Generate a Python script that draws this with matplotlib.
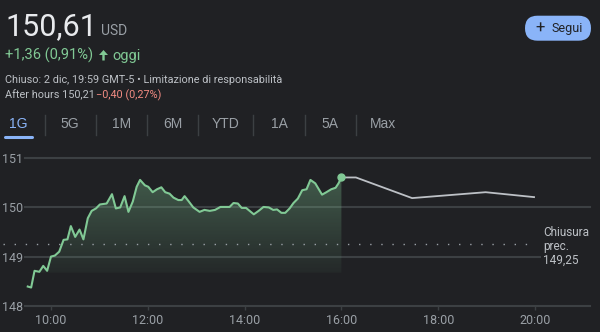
import numpy as np
import matplotlib.pyplot as plt
from matplotlib.patches import FancyBboxPatch, Polygon

plt.rcParams['font.family'] = ['Roboto', 'DejaVu Sans']

BG = '#202124'
GREEN = '#81c995'
GRID = '#3c4043'
GRAY = '#9aa0a6'
LIGHT = '#bdc1c6'

# seduta regolare (ore decimali) e prezzi
ore = [9.52, 9.59, 9.66, 9.76, 9.84, 9.92, 10.0, 10.08, 10.17, 10.26, 10.34, 10.41,
       10.50, 10.59, 10.67, 10.76, 10.84, 10.93, 11.01, 11.15, 11.26, 11.34, 11.43,
       11.52, 11.60, 11.69, 11.77, 11.84, 11.94, 12.01, 12.10, 12.19, 12.28, 12.36,
       12.45, 12.53, 12.63, 12.70, 12.76, 12.84, 12.94, 13.07, 13.17, 13.28, 13.39,
       13.50, 13.69, 13.77, 13.86, 13.94, 14.03, 14.19, 14.29, 14.39, 14.50, 14.59,
       14.67, 14.76, 14.84, 14.93, 15.01, 15.10, 15.19, 15.28, 15.36, 15.46, 15.60,
       15.69, 15.79, 15.88, 15.94, 16.0]
prezzi = [148.39, 148.37, 148.71, 148.69, 148.81, 148.71, 149.0, 149.02, 149.10, 149.34,
          149.35, 149.62, 149.40, 149.55, 149.35, 149.78, 149.93, 149.98, 150.06, 150.08,
          150.27, 149.98, 150.0, 150.23, 149.91, 150.12, 150.42, 150.56, 150.45, 150.42,
          150.31, 150.37, 150.41, 150.31, 150.28, 150.20, 150.15, 150.15, 150.23, 150.13,
          150.0, 149.91, 149.95, 149.93, 149.95, 150.01, 150.01, 150.09, 150.08, 149.99,
          149.99, 149.86, 149.93, 150.01, 150.0, 149.95, 149.96, 149.89, 149.89, 149.98,
          150.09, 150.18, 150.35, 150.37, 150.56, 150.49, 150.26, 150.31, 150.37, 150.40,
          150.49, 150.61]

# after hours
ah_ore = [16.0, 16.3, 17.46, 18.98, 19.98]
ah_prezzi = [150.61, 150.61, 150.19, 150.31, 150.21]

chiusura_prec = 149.25
yticks = [148, 149, 150, 151]
xticks = [10, 12, 14, 16, 18, 20]
xlabels = ['10:00', '12:00', '14:00', '16:00', '18:00', '20:00']
tabs = ['1G', '5G', '1M', '6M', 'YTD', '1A', '5A', 'Max']
tab_x = [18.5, 70, 121.7, 172.6, 225.8, 279.4, 330, 383]
sep_x = [44.5, 95.7, 146.7, 198.2, 253.4, 304.6, 356]

fig = plt.figure(figsize=(6, 3.32), dpi=100, facecolor=BG)

# grafico
ax = fig.add_axes([25 / 600, (332 - 305.7) / 332, 565 / 600, (305.7 - 158.3) / 332])
ax.patch.set_alpha(0)
ax.set_xlim(9.463, 21.136)
ax.set_ylim(148, 151)
for s in ax.spines.values():
    s.set_visible(False)
for y in yticks:
    ax.axhline(y, color=GRID, lw=1.5, clip_on=False, zorder=0)

# area sfumata
base = 148.67
top = max(prezzi)
verts = [(ore[0], base)] + list(zip(ore, prezzi)) + [(ore[-1], base)]
poly = Polygon(verts, closed=True, fc='none', ec='none')
ax.add_patch(poly)
rgba = np.zeros((100, 1, 4))
rgba[..., 0] = 0x81 / 255
rgba[..., 1] = 0xc9 / 255
rgba[..., 2] = 0x95 / 255
rgba[:, 0, 3] = np.linspace(0.05, 0.34, 100)
im = ax.imshow(rgba, extent=[ore[0], ore[-1], base, top], origin='lower',
               aspect='auto', zorder=1)
im.set_clip_path(poly)

ax.plot(ah_ore, ah_prezzi, color=LIGHT, lw=1.3, zorder=2)
ax.plot(ore, prezzi, color=GREEN, lw=1.5, zorder=3, solid_joinstyle='round')
ax.plot(ore[-1], prezzi[-1], 'o', color=GREEN, ms=5, zorder=4, clip_on=False)

ax.plot([9.008, 20.0], [chiusura_prec, chiusura_prec], color=GRAY, lw=1,
        dashes=(1, 7), clip_on=False, zorder=2)

ax.set_yticks(yticks)
ax.set_yticklabels([str(y) for y in yticks])
ax.set_xticks(xticks)
ax.set_xticklabels(xlabels)
ax.tick_params(axis='y', length=0, pad=1.5, labelcolor=GRAY, labelsize=9)
ax.tick_params(axis='x', length=3, width=1, color=GRID, pad=3, labelcolor=GRAY,
               labelsize=9)

# overlay in pixel per le intestazioni (sopra al grafico)
ov = fig.add_axes([0, 0, 1, 1])
ov.set_zorder(5)
ov.set_xlim(0, 600)
ov.set_ylim(332, 0)
ov.axis('off')
ov.patch.set_alpha(0)

ov.text(5, 35, '150,61', color='#e8eaed', fontsize=22, va='baseline')
ov.text(101, 35, 'USD', color=GRAY, fontsize=10, va='baseline')
ov.text(5, 60, '+1,36 (0,91%)', color=GREEN, fontsize=10.5, va='baseline')
# freccia in su, piena
ov.add_patch(Polygon([(103.5, 50), (99, 55), (102.3, 55), (102.3, 60.5),
                      (104.7, 60.5), (104.7, 55), (108, 55)],
                     closed=True, fc=GREEN, ec='none'))
ov.text(112, 60, 'oggi', color=GREEN, fontsize=10.5, va='baseline')
ov.text(5, 83, 'Chiuso: 2 dic, 19:59 GMT-5 • Limitazione di responsabilità',
        color=LIGHT, fontsize=7.8, va='baseline')
ov.text(5, 98.5, 'After hours 150,21 ', color=LIGHT, fontsize=7.8, va='baseline')
ov.text(96, 98.5, '−0,40 (0,27%)', color='#f28b82', fontsize=7.8, va='baseline')

# bottone Segui
ov.add_patch(FancyBboxPatch((525, 15.7), 66, 25, boxstyle='round,pad=0,rounding_size=12.5',
                            fc='#8ab4f8', ec='none'))
ov.text(540, 28.5, '+', color=BG, fontsize=12, ha='center', va='center')
ov.text(552, 28.5, 'Segui', color=BG, fontsize=9, va='center')

# schede periodo
for lab, x in zip(tabs, tab_x):
    ov.text(x, 124, lab, color='#8ab4f8' if lab == '1G' else GRAY, fontsize=10,
            ha='center', va='center', family=['Liberation Sans', 'DejaVu Sans'])
for x in sep_x:
    ov.plot([x, x], [115, 135], color=GRID, lw=1)
ov.plot([5, 32], [136.7, 136.7], color='#8ab4f8', lw=2.2, solid_capstyle='round')

# etichetta chiusura precedente con sfondo che copre la griglia
ov.add_patch(plt.Rectangle((541, 226), 52, 40, fc=BG, ec='none'))
ov.text(543, 246.5, 'Chiusura\nprec.\n149,25', color=LIGHT, fontsize=8.5,
        va='center', linespacing=1.05)

fig.savefig('out.png', dpi=100, facecolor=BG)
